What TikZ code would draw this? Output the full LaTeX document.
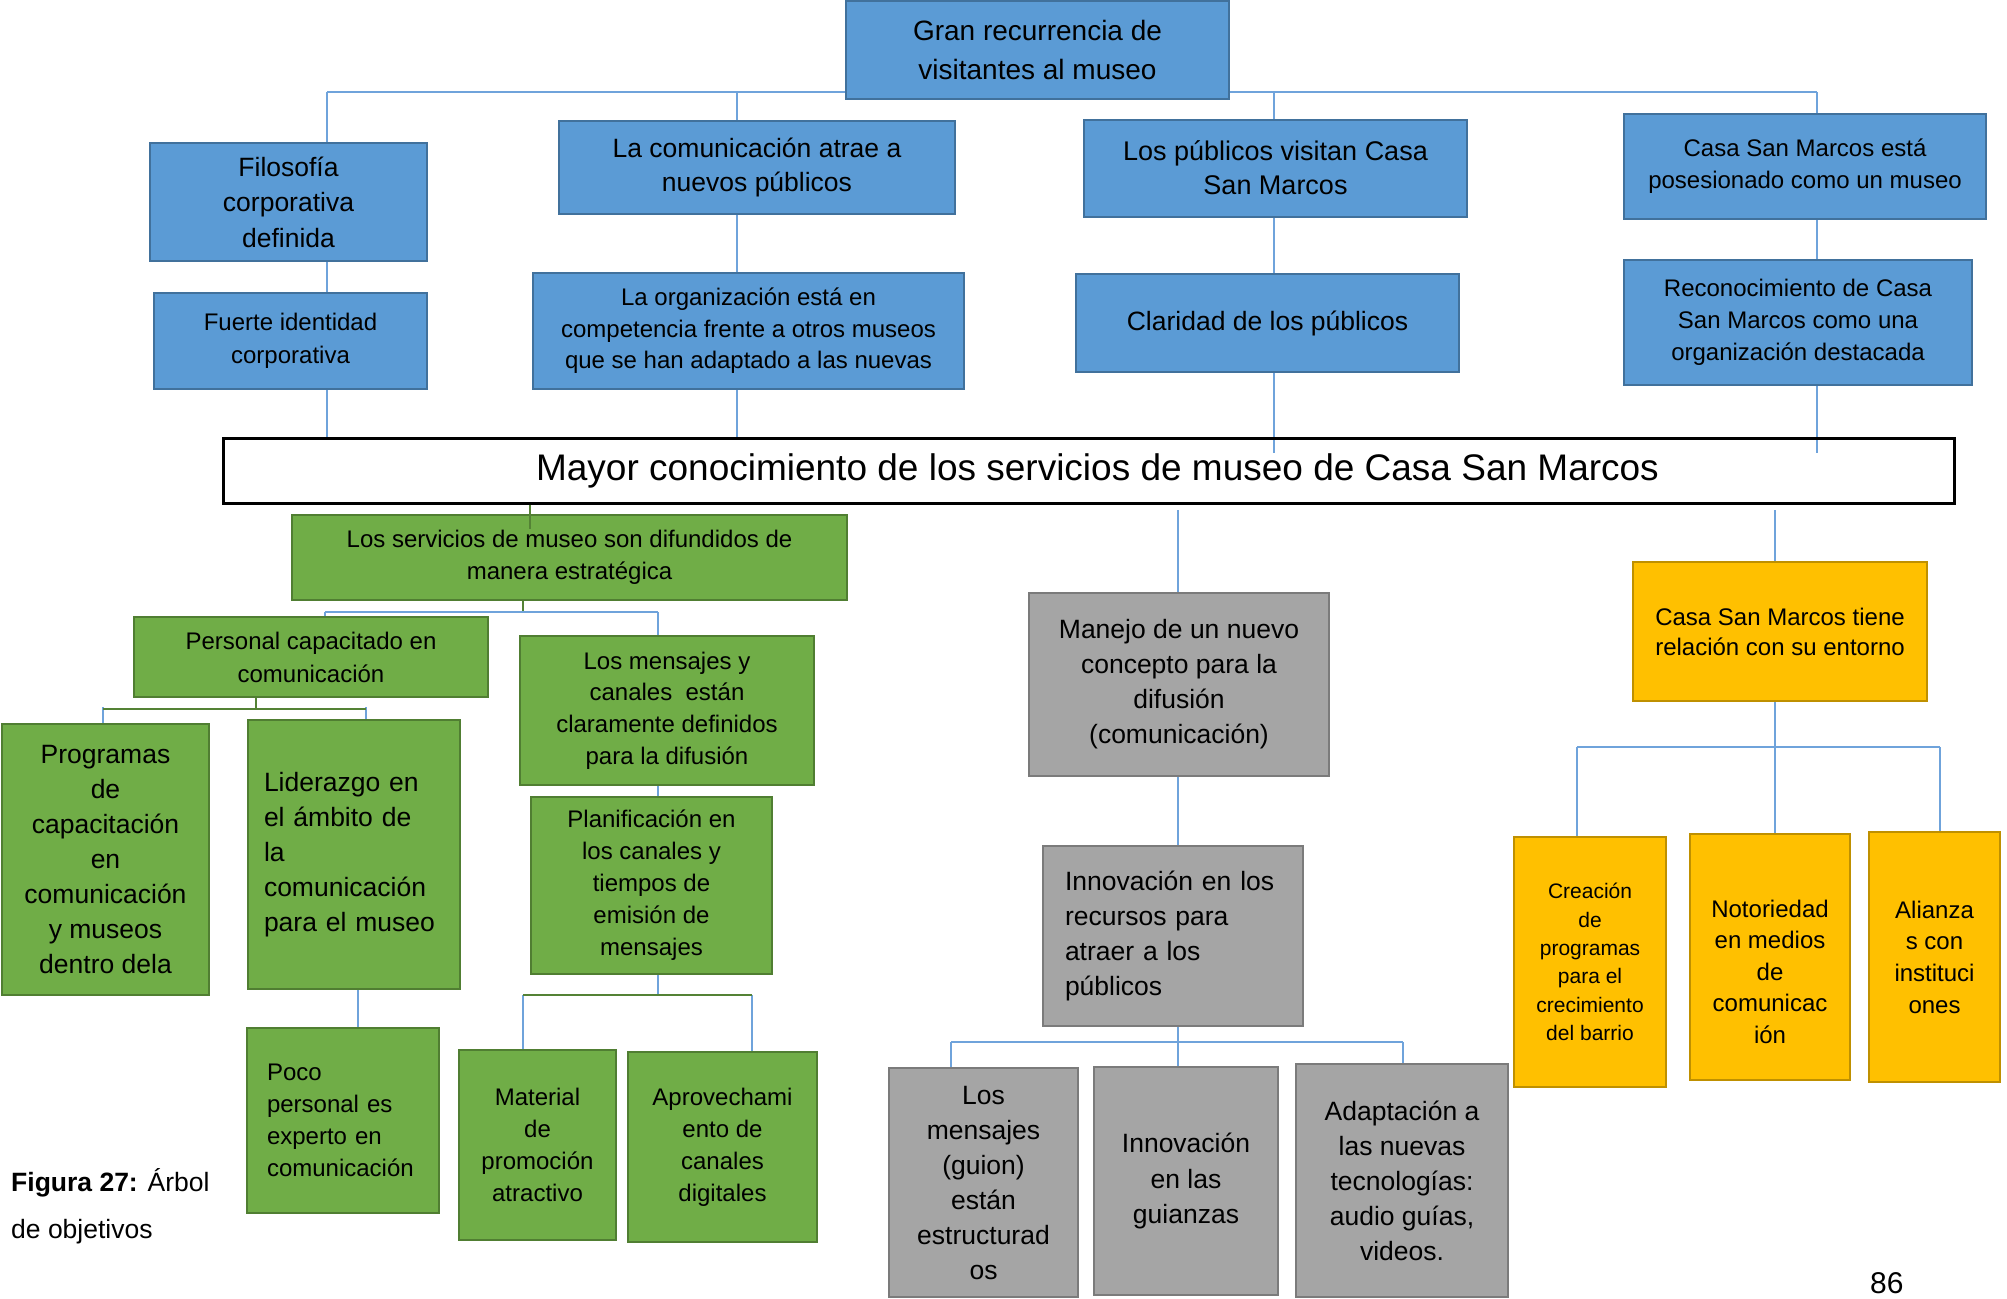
\documentclass[tikz,border=0pt]{standalone}
\usepackage{fontspec}
\setmainfont{Liberation Sans}
\usetikzlibrary{backgrounds}
\definecolor{bfill}{HTML}{5B9BD5}
\definecolor{bdraw}{HTML}{41719C}
\definecolor{gfill}{HTML}{70AD47}
\definecolor{gdraw}{HTML}{507E32}
\definecolor{yfill}{HTML}{FFC000}
\definecolor{ydraw}{HTML}{BF9000}
\definecolor{hfill}{HTML}{A5A5A5}
\definecolor{hdraw}{HTML}{7B7B7B}
\definecolor{lnblue}{HTML}{6FA3DB}
\definecolor{lngreen}{HTML}{548235}
\newcommand\myfs[2]{\fontsize{#1}{#2}\selectfont}
\begin{document}
\begin{tikzpicture}[x=1pt,y=-1pt,
 bx/.style={draw, line width=2pt, inner sep=0pt, align=center, text=black},
 bluebox/.style={bx, fill=bfill, draw=bdraw},
 greenbox/.style={bx, fill=gfill, draw=gdraw},
 graybox/.style={bx, fill=hfill, draw=hdraw},
 yelbox/.style={bx, fill=yfill, draw=ydraw},
 sz/.style 2 args={minimum width=#1pt, minimum height=#2pt},
 bl/.style={draw=lnblue, line width=1.5pt},
 gl/.style={draw=lngreen, line width=2.5pt},
 txt/.style={inner sep=0pt, text=black},
]
\useasboundingbox (0,0) rectangle (2007,1298);

% ---------- top level (blue) ----------
\node[bluebox, sz={383}{98}, font=\myfs{28}{39}] (top) at (1037.5,50) {Gran recurrencia de\\visitantes al museo};
\node[bluebox, sz={277}{118}, font=\myfs{26.5}{35.5}] (filo) at (288.5,202) {Filosofía\\corporativa\\definida};
\node[bluebox, sz={273}{96}, font=\myfs{24}{33}] (fuerte) at (290.5,341) {Fuerte identidad\\corporativa};
\node[bluebox, sz={396}{93}, font=\myfs{26.5}{34}] (comun) at (757,167.5) {La comunicación atrae a\\nuevos públicos};
\node[bluebox, sz={431}{116}, font=\myfs{24}{31.5}] (org) at (748.5,331) {La organización está en\\competencia frente a otros museos\\que se han adaptado a las nuevas};
\node[bluebox, sz={383}{97}, font=\myfs{27}{34}] (publ) at (1275.5,168) {Los públicos visitan Casa\\San Marcos};
\node[bluebox, sz={383}{98}, font=\myfs{26.5}{34}] (clar) at (1267.5,323) {Claridad de los públicos};
\node[bluebox, sz={362}{105}, font=\myfs{24}{32}] (posi) at (1805,166.5) {Casa San Marcos está\\posesionado como un museo};
\node[bluebox, sz={348}{125}, font=\myfs{24}{32}] (reco) at (1798,322.5) {Reconocimiento de Casa\\San Marcos como una\\organización destacada};

% ---------- central problem ----------
\node[draw=black, line width=3pt, inner sep=0pt, sz={1731}{65}, font=\myfs{37}{44}] (main) at (1088.5,470.5) {\hspace*{18pt}Mayor conocimiento de los servicios de museo de Casa San Marcos};

% ---------- green branch ----------
\node[greenbox, sz={555}{85}, font=\myfs{24}{31.7}] (serv) at (569.5,557.5) {Los servicios de museo son difundidos de\\manera estratégica};
\node[greenbox, sz={354}{80}, font=\myfs{24}{33}] (pers) at (311,657) {Personal capacitado en\\comunicación};
\node[greenbox, sz={294}{149}, font=\myfs{24}{31.7}] (mens) at (667,710.5) {Los mensajes y\\canales\ \ están\\claramente definidos\\para la difusión};
\node[greenbox, sz={207}{271}, font=\myfs{26.5}{35}] (prog) at (105.5,859.5) {Programas\\de\\capacitación\\en\\comunicación\\y museos\\dentro dela};
\node[greenbox, sz={212}{269}, font=\myfs{26.5}{35}, align=left, text width=180pt] (lide) at (354,854.5) {Liderazgo en\\el ámbito de\\la\\comunicación\\para el museo};
\node[greenbox, sz={241}{177}, font=\myfs{24}{32}] (plan) at (651.5,885.5) {Planificación en\\los canales y\\tiempos de\\emisión de\\mensajes};
\node[greenbox, sz={192}{185}, font=\myfs{24}{32}, align=left, text width=152pt] (poco) at (343,1120.5) {Poco\\personal es\\experto en\\comunicación};
\node[greenbox, sz={157}{190}, font=\myfs{24}{32}] (mate) at (537.5,1145) {Material\\de\\promoción\\atractivo};
\node[greenbox, sz={189}{190}, font=\myfs{24}{32}] (apro) at (722.5,1147) {Aprovechami\\ento de\\canales\\digitales};

% ---------- gray branch ----------
\node[graybox, sz={300}{183}, font=\myfs{26.5}{35}] (mane) at (1179,684.5) {Manejo de un nuevo\\concepto para la\\difusión\\(comunicación)};
\node[graybox, sz={260}{180}, font=\myfs{26.5}{35}, align=left, text width=216pt] (inno) at (1173,936) {Innovación en los\\recursos para\\atraer a los\\públicos};
\node[graybox, sz={189}{229}, font=\myfs{26.5}{35}] (guio) at (983.5,1182.5) {Los\\mensajes\\(guion)\\están\\estructurad\\os};
\node[graybox, sz={184}{228}, font=\myfs{26.5}{35.5}] (guia) at (1186,1181) {Innovación\\en las\\guianzas};
\node[graybox, sz={212}{233}, font=\myfs{26.5}{35}] (adap) at (1402,1180.5) {Adaptación a\\las nuevas\\tecnologías:\\audio guías,\\videos.};

% ---------- yellow branch ----------
\node[yelbox, sz={294}{139}, font=\myfs{24}{30}] (ento) at (1780,631.5) {Casa San Marcos tiene\\relación con su entorno};
\node[yelbox, sz={152}{250}, font=\myfs{21}{28.4}] (crea) at (1590,962) {Creación\\de\\programas\\para el\\crecimiento\\del barrio};
\node[yelbox, sz={160}{246}, font=\myfs{24}{31.5}] (noto) at (1770,957) {\rule{0pt}{47pt}Notoriedad\\en medios\\de\\comunicac\\ión};
\node[yelbox, sz={131}{250}, font=\myfs{24}{31.7}] (alia) at (1934.5,957) {Alianza\\s con\\instituci\\ones};

% ---------- caption and page number ----------
\node[txt, anchor=west, align=left, font=\myfs{26.5}{47}] (cap) at (11,1206) {\textbf{Figura 27:} Árbol\\de objetivos};
\node[txt, anchor=base west, font=\myfs{30}{36}] (pnum) at (1870,1293) {86};

% ---------- coordinates for buses ----------
\coordinate (k1) at (327,92);
\coordinate (k2) at (737,92);
\coordinate (k3) at (1274,92);
\coordinate (k4) at (1817,92);
\coordinate (k3e) at (1274,453);
\coordinate (k4e) at (1817,453);
\coordinate (g1) at (530,529);
\coordinate (g2) at (523,611);
\coordinate (b2l) at (325,612);
\coordinate (b2r) at (658,612);
\coordinate (g3) at (256,710);
\coordinate (b3l) at (103,709);
\coordinate (b3r) at (366,709);
\coordinate (k6) at (358,1000);
\coordinate (b4) at (658,995);
\coordinate (b4l) at (523,995);
\coordinate (b4r) at (752,995);
\coordinate (k7) at (1178,510);
\coordinate (b5) at (1178,1042);
\coordinate (b5l) at (951,1042);
\coordinate (b5r) at (1403,1042);
\coordinate (k8) at (1775,510);
\coordinate (b6) at (1775,747);
\coordinate (b6l) at (1577,747);
\coordinate (b6r) at (1940,747);

\begin{pgfonlayer}{background}
\fill[white] (0,0) rectangle (2007,1298);
% top buses
\draw[bl, line width=2pt] (k1) -- (k4);
\draw[bl] (k1) -- (filo.north -| k1) (filo.south -| k1) -- (fuerte.north -| k1) (fuerte.south -| k1) -- (main.north -| k1);
\draw[bl] (k2) -- (comun.north -| k2) (comun.south -| k2) -- (org.north -| k2) (org.south -| k2) -- (main.north -| k2);
\draw[bl] (k3) -- (publ.north -| k3) (publ.south -| k3) -- (clar.north -| k3) (clar.south -| k3) -- (k3e);
\draw[bl] (k4) -- (posi.north -| k4) (posi.south -| k4) -- (reco.north -| k4) (reco.south -| k4) -- (k4e);
% green branch
\draw[bl] (b2l) -- (b2r);
\draw[bl] (b2l) -- (pers.north -| b2l);
\draw[bl] (b2r) -- (mens.north -| b2r);
\draw[bl] ([yshift=2pt]b3l) -- (prog.north -| b3l);
\draw[bl] ([yshift=2pt]b3r) -- (lide.north -| b3r);
\draw[bl] (mens.south -| b2r) -- (plan.north -| b2r);
\draw[bl] (lide.south -| k6) -- (poco.north -| k6);
\draw[bl] (plan.south -| b4) -- (b4);
\draw[bl] (b4l) -- (mate.north -| b4l);
\draw[bl] (b4r) -- (apro.north -| b4r);
% gray branch
\draw[bl] (k7) -- (mane.north -| k7);
\draw[bl] (mane.south -| k7) -- (inno.north -| k7);
\draw[bl] (inno.south -| b5) -- (guia.north -| b5);
\draw[bl] (b5l) -- (b5r);
\draw[bl] (b5l) -- (guio.north -| b5l);
\draw[bl] (b5r) -- (adap.north -| b5r);
% yellow branch
\draw[bl] (k8) -- (ento.north -| k8);
\draw[bl] (ento.south -| b6) -- (noto.north -| b6);
\draw[bl] (b6l) -- (b6r);
\draw[bl] (b6l) -- (crea.north -| b6l);
\draw[bl] (b6r) -- (alia.north -| b6r);
\end{pgfonlayer}

% green connectors drawn over boxes
\draw[gl] (main.south -| g1) -- (g1);
\draw[gl] (serv.south -| g2) -- (g2);
\draw[gl] (pers.south -| g3) -- (g3);
\draw[gl] (b3l) -- (b3r);
\draw[gl] (b4l) -- (b4r);
\end{tikzpicture}
\end{document}
